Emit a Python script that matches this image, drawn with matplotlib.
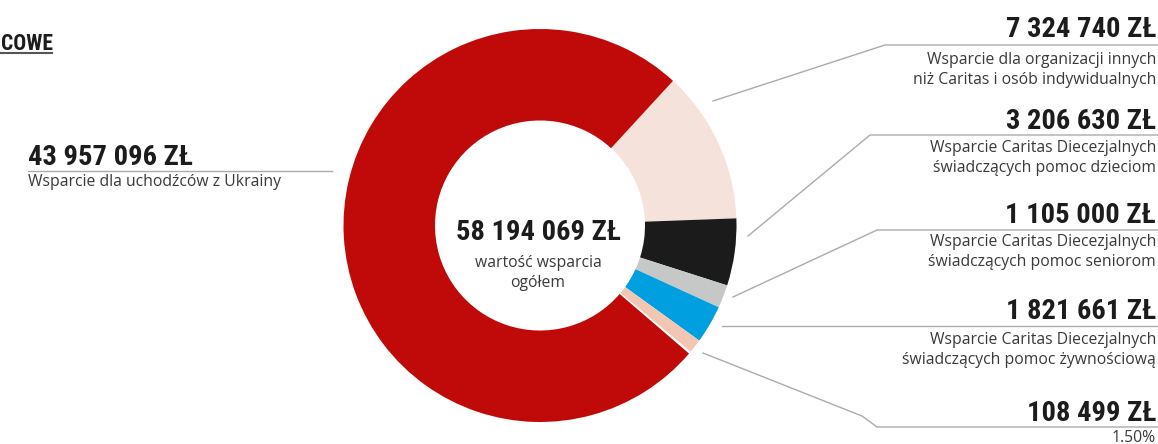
import matplotlib
matplotlib.use("Agg")
import matplotlib.pyplot as plt
from matplotlib import font_manager as fm

# ---------------- data ----------------
total_value = 58194069
total_label = "58 194 069 ZŁ"
total_caption = "wartość wsparcia\nogółem"

slice_values = [7324740, 3206630, 1105000, 1821661, 670443, 108499, 43957096]
slice_colors = ["#F5E2DA", "#1B1B1B", "#C6C7C7", "#009FE0", "#F2C6B3", "#FFFFFF", "#C00A0A"]

left_value = "43 957 096 ZŁ"
left_caption = "Wsparcie dla uchodźców z Ukrainy"

right_values = ["7 324 740 ZŁ", "3 206 630 ZŁ", "1 105 000 ZŁ", "1 821 661 ZŁ", "108 499 ZŁ"]
right_captions = [
    "Wsparcie dla organizacji innych\nniż Caritas i osób indywidualnych",
    "Wsparcie Caritas Diecezjalnych\nświadczących pomoc dzieciom",
    "Wsparcie Caritas Diecezjalnych\nświadczących pomoc seniorom",
    "Wsparcie Caritas Diecezjalnych\nświadczących pomoc żywnościową",
    "1.50%",
]
heading = "COWE"

# ---------------- fonts ----------------
avail = {f.name for f in fm.fontManager.ttflist}
def pick(*names):
    for n in names:
        if n in avail:
            return n
    return "DejaVu Sans"
BIG = pick("Liberation Sans Narrow", "Roboto Condensed", "DejaVu Sans")
SMALL = pick("Open Sans", "Noto Sans", "DejaVu Sans")

W, H = 1158, 444
fig = plt.figure(figsize=(W / 100, H / 100), dpi=100)
ax = fig.add_axes([0, 0, 1, 1])

def Y(y):  # pixel row -> data y
    return H - y

cx, cy, R, r_in = 540, 225.5, 196.5, 105
ax.pie(slice_values, colors=slice_colors, startangle=47.4, counterclock=False,
       radius=R, center=(cx, Y(cy)), frame=True,
       wedgeprops=dict(width=R - r_in, linewidth=0))
ax.set_xlim(0, W)
ax.set_ylim(0, H)
ax.set_aspect("equal")
ax.axis("off")

NUM_C = "#1C1C1C"
TXT_C = "#3A3A3A"
LINE_C = "#ABABAB"
big_fs = 20.5
small_fs = 11.3

# heading (partially visible at left edge)
ax.text(0.5, Y(50), heading, ha="left", va="baseline", fontsize=15.5, fontweight="bold",
        family=BIG, color=NUM_C)
ax.plot([0, 52], [Y(53), Y(53)], color="#555555", lw=1.5)

# center
ax.text(cx - 2, Y(240), total_label, ha="center", va="baseline", fontsize=big_fs,
        fontweight="bold", family=BIG, color=NUM_C)
ax.text(cx - 2, Y(273), total_caption, ha="center", va="center", fontsize=small_fs,
        family=SMALL, color=TXT_C, linespacing=1.4)

# left label
ax.text(28, Y(165), left_value, ha="left", va="baseline", fontsize=big_fs,
        fontweight="bold", family=BIG, color=NUM_C)
ax.plot([28, 332], [Y(171), Y(171)], color=LINE_C, lw=1)
ax.text(28, Y(182), left_caption, ha="left", va="center", fontsize=small_fs,
        family=SMALL, color=TXT_C)

# right labels
baselines = [37, 129, 223, 319, 421]
line_ys = [45, 135, 230, 326, 427]
cap_ys = [70, 158, 252, 350, 438]
leaders = [
    [(713, 101), (885, 45)],
    [(748, 236), (870, 135)],
    [(733, 297), (877, 230)],
    [(722, 326), (722, 326)],
    [(703, 353), (862, 416), (877, 427)],
]
xr = 1156
for val, cap, b, ly, cy_, pts in zip(right_values, right_captions, baselines, line_ys, cap_ys, leaders):
    ax.text(xr, Y(b), val, ha="right", va="baseline", fontsize=big_fs,
            fontweight="bold", family=BIG, color=NUM_C)
    xs = [p[0] for p in pts] + [W]
    ys = [Y(p[1]) for p in pts] + [Y(ly)]
    ax.plot(xs, ys, color=LINE_C, lw=1)
    ax.text(xr, Y(cy_), cap, ha="right", va="center", fontsize=small_fs,
            family=SMALL, color=TXT_C, linespacing=1.4)

fig.savefig("out.png", dpi=100)
